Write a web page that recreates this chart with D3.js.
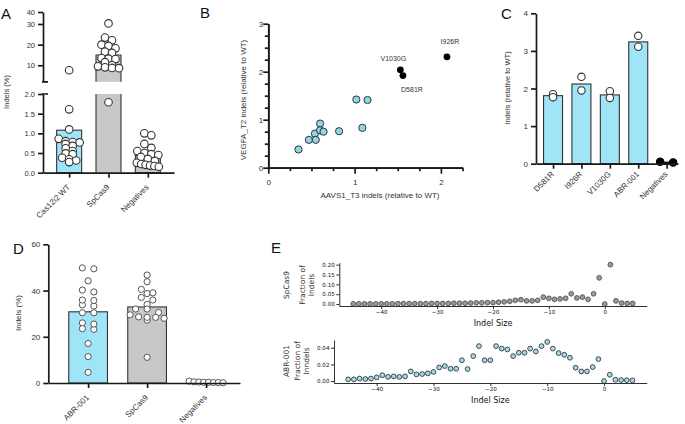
<!DOCTYPE html>
<html>
<head>
<meta charset="utf-8">
<script src="https://cdn.jsdelivr.net/npm/d3@7"></script>
<style>
  body { margin: 0; background: #fff; }
  svg { display: block; }
</style>
</head>
<body>
<script>
// ---- data ----
// A: indels (%) per guide
const aGroups = ['Cas12i2 WT', 'SpCas9', 'Negatives']
const aMeans = [1.08, 15, 0.44]
const aCas12 = [7.6, 1.61, 1.10, 0.86, 0.80, 0.78, 0.77, 0.73, 0.68, 0.62, 0.55, 0.49, 0.47, 0.38, 0.34, 0.31, 0.27]
const aSpCas9 = [30.5, 23.4, 22.1, 20, 19.4, 18.2, 16.6, 16, 13.5, 13.2, 13, 11.5, 10, 9.5, 9, 8.7, 8.6, 1.79]
const aNeg = [1.0, 0.95, 0.73, 0.63, 0.55, 0.5, 0.47, 0.45, 0.4, 0.35, 0.3, 0.25, 0.22, 0.2, 0.18, 0.17, 0.15]

// B: AAVS1_T3 vs VEGFA_T2 (relative to WT)
const bScreenX = [0.35, 0.47, 0.54, 0.55, 0.60, 0.60, 0.64, 0.82, 1.02, 1.15, 1.09]
const bScreenY = [0.38, 0.58, 0.71, 0.58, 0.92, 0.78, 0.75, 0.76, 1.42, 1.41, 0.83]
const bVariants = ['V1030G', 'D581R', 'I926R']
const bVarX = [1.53, 1.56, 2.07]
const bVarY = [2.04, 1.92, 2.31]

// C: indels relative to WT
const cGroups = ['D581R', 'I926R', 'V1030G', 'ABR-001', 'Negatives']
const cMeans = [1.81, 2.12, 1.83, 3.24, 0.04]
const cReps = [[1.85, 1.77], [2.31, 1.95], [1.93, 1.75], [3.40, 3.11], [0.03, 0.05]]

// D: indels (%)
const dGroups = ['ABR-001', 'SpCas9', 'Negatives']
const dMeans = [30.8, 32.9, 0.4]
const dABR = [49.8, 49.4, 44.2, 39.4, 40.2, 33.3, 33.8, 35.7, 35.9, 30.4, 30.4, 26.0, 23.5, 23.2, 25.5, 17.1, 11.4, 4.6]
const dSpCas9 = [46.7, 43.8, 40.5, 38.7, 39, 37, 35.9, 34, 32, 32, 30.5, 29.5, 28, 28.6, 27.2, 28.4, 28.4, 11.1]
const dNeg = [0.8, 0.5, 0.4, 0.3, 0.3, 0.2, 0.2, 0.1]

// E: indel size distributions
const eSizes = [-45, -44, -43, -42, -41, -40, -39, -38, -37, -36, -35, -34, -33, -32, -31, -30, -29, -28, -27, -26,
  -25, -24, -23, -22, -21, -20, -19, -18, -17, -16, -15, -14, -13, -12, -11, -10, -9, -8, -7, -6,
  -5, -4, -3, -2, -1, 0, 1, 2, 3, 4, 5]
const eSpCas9 = [0.001, 0.001, 0.001, 0.001, 0.001, 0.001, 0.001, 0.001, 0.002, 0.002, 0.002,
  0.002, 0.002, 0.002, 0.003, 0.003, 0.003, 0.003, 0.004, 0.004, 0.004,
  0.005, 0.006, 0.006, 0.007, 0.007, 0.009, 0.011, 0.014, 0.019,
  0.022, 0.016, 0.016, 0.019, 0.035, 0.029, 0.024, 0.026, 0.029, 0.052, 0.031, 0.035, 0.024, 0.052, 0.133, 0.0, 0.200, 0.016, 0.005, 0.003, 0.003]
const eABR = [0.002, 0.002, 0.003, 0.0024, 0.003, 0.0044, 0.007, 0.005, 0.0056, 0.005,
  0.0056, 0.0116, 0.008, 0.0084, 0.0092, 0.011, 0.0164, 0.018, 0.0148, 0.0148,
  0.025, 0.0144, 0.030, 0.042, 0.025, 0.025, 0.042, 0.039, 0.038, 0.030,
  0.034, 0.034, 0.039, 0.0356, 0.042, 0.047, 0.039, 0.0336, 0.0316, 0.028,
  0.016, 0.0116, 0.0116, 0.0168, 0.0264, 0.0, 0.0076, 0.0016, 0.0012, 0.001, 0.0008]

// ---- styles ----
const PF = '"Liberation Sans", Arial, sans-serif'
const MF = '"DejaVu Sans", sans-serif'
const INK = '#1a1a1a'
const CYAN = '#a0e4f7'
const GREY = '#c8c8c8'

const svg = d3.select('body').append('svg').attr('width', 685).attr('height', 424)

function styleAxis(g, font, size, w) {
  g.attr('font-family', null).attr('font-size', null)
  g.select('.domain').attr('stroke', INK).attr('stroke-width', w)
  g.selectAll('.tick line').attr('stroke', INK).attr('stroke-width', w)
  g.selectAll('.tick text').attr('font-family', font).attr('font-size', size).attr('fill', '#333')
}

// category labels at 45 degrees, ending under the tick
function rotLabels(groups, xs, y0, dy) {
  svg.append('g').selectAll('text').data(groups).join('text')
    .attr('transform', d => `translate(${xs(d) - 0.5},${y0 + dy}) rotate(-45)`)
    .attr('text-anchor', 'end').attr('dy', '0.35em').text(d => d)
    .attr('font-family', PF).attr('font-size', 8).attr('fill', '#333')
}

function letter(t, x, y) {
  svg.append('text').attr('x', x).attr('y', y).text(t)
    .attr('font-family', PF).attr('font-size', 15).attr('fill', '#111')
}

function vLabel(t, x, y, font, size) {
  svg.append('text').attr('transform', `translate(${x},${y}) rotate(-90)`)
    .attr('text-anchor', 'middle').text(t)
    .attr('font-family', font).attr('font-size', size).attr('fill', '#333')
}

// Prism-like scatter: group points into rows and spread each row symmetrically
function rowOffsets(ys, thresh, spacing, maxW) {
  const idx = ys.map((y, i) => i).sort((a, b) => ys[a] - ys[b])
  const off = new Array(ys.length).fill(0)
  let row = []
  const flush = () => {
    const n = row.length
    let s = spacing
    if (n > 1 && (n - 1) * s > maxW) s = maxW / (n - 1)
    row.forEach((k, j) => off[k] = (j - (n - 1) / 2) * s)
    row = []
  }
  idx.forEach(i => {
    if (row.length && ys[i] - ys[row[0]] > thresh) flush()
    row.push(i)
  })
  flush()
  return off
}

// =================== A ===================
letter('A', 1, 19)
const aX = d3.scalePoint().domain(aGroups).range([43, 174]).padding(0.665)
const aTop = d3.scaleLinear().domain([2, 30, 40]).range([81.8, 24, 12])
const aBot = d3.scaleLinear().domain([0, 2]).range([172.7, 94])
const aY = v => v > 2 ? aTop(v) : aBot(v)
const aBarW = 25
const aPts = [aCas12, aSpCas9, aNeg]

aGroups.forEach((g, i) => {
  const m = aMeans[i]
  const x0 = aX(g) - aBarW / 2
  const fill = i == 0 ? CYAN : GREY
  if (m > 2) {
    svg.append('rect').attr('x', x0).attr('y', aTop(m)).attr('width', aBarW)
      .attr('height', aTop(2) - aTop(m)).attr('fill', fill)
    svg.append('path').attr('d', `M${x0},${aTop(2)}V${aTop(m)}H${x0 + aBarW}V${aTop(2)}`)
      .attr('fill', 'none').attr('stroke', '#333').attr('stroke-width', 1.1)
    svg.append('rect').attr('x', x0).attr('y', aBot(2)).attr('width', aBarW)
      .attr('height', aBot(0) - aBot(2)).attr('fill', fill)
    svg.append('path').attr('d', `M${x0},${aBot(2)}V${aBot(0)}M${x0 + aBarW},${aBot(2)}V${aBot(0)}`)
      .attr('fill', 'none').attr('stroke', '#333').attr('stroke-width', 1.1)
  } else {
    svg.append('rect').attr('x', x0).attr('y', aBot(m)).attr('width', aBarW)
      .attr('height', aBot(0) - aBot(m)).attr('fill', fill)
      .attr('stroke', '#333').attr('stroke-width', 1.1)
  }
  const ys = aPts[i].map(aY)
  const off = rowOffsets(ys, 4, 7, 22)
  svg.append('g').selectAll('circle').data(aPts[i]).join('circle')
    .attr('cx', (d, k) => aX(g) + off[k]).attr('cy', d => aY(d)).attr('r', 3.8)
    .attr('fill', '#fff').attr('stroke', '#333').attr('stroke-width', 1.1)
})

const aTopAxis = svg.append('g').attr('transform', 'translate(43,0)')
  .call(d3.axisLeft(aTop).tickValues([10, 20, 30, 40]).tickSize(5).tickSizeOuter(0).tickFormat(d3.format('d')))
styleAxis(aTopAxis, PF, 7.5, 1.7)
const aBotAxis = svg.append('g').attr('transform', 'translate(43,0)')
  .call(d3.axisLeft(aBot).tickValues([0, 0.5, 1, 1.5, 2]).tickSize(5).tickSizeOuter(0).tickFormat(d3.format('.1f')))
styleAxis(aBotAxis, PF, 7.5, 1.7)
// break caps
svg.append('path').attr('d', `M42,${aTop(2)}H48M42,${aBot(2)}H48`)
  .attr('stroke', INK).attr('stroke-width', 1.7)
const aXAxis = svg.append('g').attr('transform', `translate(0,${aBot(0)})`)
  .call(d3.axisBottom(aX).tickSize(5).tickSizeOuter(0).tickFormat(''))
styleAxis(aXAxis, PF, 7.5, 1.7)
rotLabels(aGroups, aX, aBot(0), 13)
vLabel('Indels (%)', 9, 92, PF, 7.5)

// =================== B ===================
letter('B', 200, 18)
const bX = d3.scaleLinear().domain([0, 2.25]).range([268.3, 462.5])
const bY = d3.scaleLinear().domain([0, 3]).range([167.7, 23.7])
const bMinor = [0.25, 0.5, 0.75, 1.25, 1.5, 1.75, 2.25, 2.5, 2.75]

const bXm = svg.append('g').attr('transform', 'translate(0,167.7)')
  .call(d3.axisBottom(bX).tickValues(bMinor.filter(v => v <= 2.25)).tickSize(3.5).tickSizeOuter(0).tickFormat(''))
styleAxis(bXm, PF, 8, 1.7)
const bXa = svg.append('g').attr('transform', 'translate(0,167.7)')
  .call(d3.axisBottom(bX).tickValues([0, 1, 2]).tickSize(6).tickSizeOuter(0).tickFormat(d3.format('d')))
styleAxis(bXa, PF, 8, 1.7)
bXa.selectAll('.tick text').attr('y', 12)
const bYm = svg.append('g').attr('transform', 'translate(268.3,0)')
  .call(d3.axisLeft(bY).tickValues(bMinor).tickSize(3.5).tickSizeOuter(0).tickFormat(''))
styleAxis(bYm, PF, 8, 1.7)
const bYa = svg.append('g').attr('transform', 'translate(268.3,0)')
  .call(d3.axisLeft(bY).tickValues([0, 1, 2, 3]).tickSize(5).tickSizeOuter(0).tickFormat(d3.format('d')))
styleAxis(bYa, PF, 8, 1.7)
bYa.selectAll('.tick text').attr('x', -5)

svg.append('g').selectAll('circle').data(bScreenX).join('circle')
  .attr('cx', d => bX(d)).attr('cy', (d, i) => bY(bScreenY[i])).attr('r', 3.6)
  .attr('fill', '#8fd6ea').attr('stroke', '#333').attr('stroke-width', 1)
svg.append('g').selectAll('circle').data(bVarX).join('circle')
  .attr('cx', d => bX(d)).attr('cy', (d, i) => bY(bVarY[i])).attr('r', 3.4)
  .attr('fill', '#000')
const bLabelOff = { 'V1030G': [-7, -8.5], 'D581R': [9, 16], 'I926R': [3, -13] }
svg.append('g').selectAll('text').data(bVariants).join('text')
  .attr('x', (d, i) => bX(bVarX[i]) + bLabelOff[d][0])
  .attr('y', (d, i) => bY(bVarY[i]) + bLabelOff[d][1])
  .attr('text-anchor', 'middle').text(d => d)
  .attr('font-family', PF).attr('font-size', 7).attr('fill', '#333')
svg.append('text').attr('x', 380).attr('y', 197.5).attr('text-anchor', 'middle')
  .text('AAVS1_T3 indels (relative to WT)').attr('font-family', PF).attr('font-size', 8).attr('fill', '#333')
vLabel('VEGFA_T2 indels (relative to WT)', 246, 100, PF, 8)

// =================== C ===================
letter('C', 501, 19)
const cX = d3.scalePoint().domain(cGroups).range([536, 678]).padding(0.5).align(0.6)
const cY = d3.scaleLinear().domain([0, 4]).range([163.7, 13.3])
const cBarW = 19
svg.append('g').selectAll('rect').data(cGroups).join('rect')
  .attr('x', d => cX(d) - cBarW / 2).attr('width', cBarW)
  .attr('y', (d, i) => cY(cMeans[i])).attr('height', (d, i) => cY(0) - cY(cMeans[i]))
  .attr('fill', (d, i) => i < 4 ? CYAN : '#000')
  .attr('stroke', (d, i) => i < 4 ? '#333' : '#000').attr('stroke-width', 1.1)
cGroups.forEach((g, i) => {
  const ys = cReps[i].map(cY)
  const off = rowOffsets(ys, 3, 13, 13)
  svg.append('g').selectAll('circle').data(cReps[i]).join('circle')
    .attr('cx', (d, k) => cX(g) + off[k]).attr('cy', d => cY(d)).attr('r', 3.7)
    .attr('fill', i < 4 ? '#fff' : '#000').attr('stroke', i < 4 ? '#333' : '#000').attr('stroke-width', 1.1)
})
const cYa = svg.append('g').attr('transform', 'translate(536,0)')
  .call(d3.axisLeft(cY).tickValues([0, 1, 2, 3, 4]).tickSize(5).tickSizeOuter(0).tickFormat(d3.format('d')))
styleAxis(cYa, PF, 8, 1.7)
const cXa = svg.append('g').attr('transform', `translate(0,${cY(0)})`)
  .call(d3.axisBottom(cX).tickSize(5).tickSizeOuter(0).tickFormat(''))
styleAxis(cXa, PF, 7.5, 1.7)
rotLabels(cGroups, cX, cY(0), 9)
vLabel('Indels (relative to WT)', 510, 88, PF, 7.5)

// =================== D ===================
letter('D', 13, 254)
const dX = d3.scalePoint().domain(dGroups).range([48.3, 240]).padding(0.625).align(0.54)
const dY = d3.scaleLinear().domain([0, 60]).range([383, 244.3])
const dBarW = 38.7
const dPts = [dABR, dSpCas9, dNeg]
svg.append('g').selectAll('rect').data(dGroups).join('rect')
  .attr('x', d => dX(d) - dBarW / 2).attr('width', dBarW)
  .attr('y', (d, i) => dY(dMeans[i])).attr('height', (d, i) => dY(0) - dY(dMeans[i]))
  .attr('fill', (d, i) => i == 0 ? CYAN : GREY)
  .attr('stroke', '#333').attr('stroke-width', 1.1)
dGroups.forEach((g, i) => {
  const ys = dPts[i].map(dY)
  const off = rowOffsets(ys, 3.5, 11.5, 34)
  svg.append('g').selectAll('circle').data(dPts[i]).join('circle')
    .attr('cx', (d, k) => dX(g) + off[k]).attr('cy', d => dY(d)).attr('r', 3.1)
    .attr('fill', '#fff').attr('stroke', '#555').attr('stroke-width', 1)
})
const dYa = svg.append('g').attr('transform', 'translate(48.3,0)')
  .call(d3.axisLeft(dY).tickValues([0, 20, 40, 60]).tickSize(5).tickSizeOuter(0).tickFormat(d3.format('d')))
styleAxis(dYa, PF, 8, 1.7)
const dXa = svg.append('g').attr('transform', `translate(0,${dY(0)})`)
  .call(d3.axisBottom(dX).tickSize(5).tickSizeOuter(0).tickFormat(''))
styleAxis(dXa, PF, 7.5, 1.7)
rotLabels(dGroups, dX, dY(0), 13)
vLabel('Indels (%)', 21, 313, PF, 8)

// =================== E ===================
letter('E', 271, 253)
const eSub = [
  { name: 'SpCas9', ylab: 'Indels', vals: eSpCas9, ydom: [-0.01, 0.21], yr: [306, 262.7], x0: 339.3,
    ticks: [0, 0.05, 0.1, 0.15, 0.2], fill: '#9a9a9a', stroke: '#444', cy: 285 },
  { name: 'ABR-001', ylab: 'Inndels', vals: eABR, ydom: [-0.00235, 0.04935], yr: [383, 340], x0: 334,
    ticks: [0, 0.02, 0.04], fill: '#a3d9ec', stroke: '#222', cy: 361 }
]
eSub.forEach(s => {
  const x = d3.scaleLinear().domain([-47.5, 7.5]).range([s.x0, 646.7])
  const y = d3.scaleLinear().domain(s.ydom).range(s.yr)
  const xa = svg.append('g').attr('transform', `translate(0,${s.yr[0]})`)
    .call(d3.axisBottom(x).tickValues([-40, -30, -20, -10, 0]).tickSize(3).tickSizeOuter(0).tickPadding(1.5)
      .tickFormat(d => d < 0 ? '\u2212' + Math.abs(d) : d))
  styleAxis(xa, MF, 5.6, 0.9)
  xa.selectAll('.tick text').attr('fill', '#111')
  const ya = svg.append('g').attr('transform', `translate(${s.x0},0)`)
    .call(d3.axisLeft(y).tickValues(s.ticks).tickSize(3).tickSizeOuter(0).tickPadding(1.5).tickFormat(d3.format('.2f')))
  styleAxis(ya, MF, 5.6, 0.9)
  ya.selectAll('.tick text').attr('fill', '#111')
  svg.append('g').selectAll('circle').data(s.vals).join('circle')
    .attr('cx', (d, i) => x(eSizes[i])).attr('cy', d => y(d)).attr('r', 2.4)
    .attr('fill', s.fill).attr('stroke', s.stroke).attr('stroke-width', 0.8)
  svg.append('text').attr('x', x(-20)).attr('y', s.yr[0] + 19.5).attr('text-anchor', 'middle')
    .text('Indel Size').attr('font-family', MF).attr('font-size', 8).attr('fill', '#111')
  vLabel('Fraction of', s.x0 - 34, s.cy, MF, 7.5)
  vLabel(s.ylab, s.x0 - 25.5, s.cy, MF, 7.5)
  vLabel(s.name, 289, s.cy, MF, 7.5)
})
</script>
</body>
</html>
